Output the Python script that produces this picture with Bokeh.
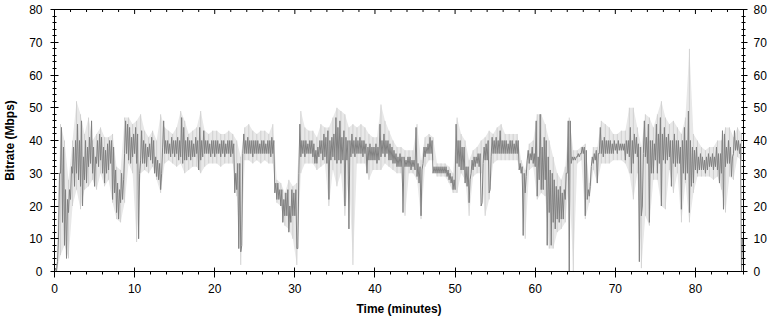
import math
from bokeh.plotting import figure
from bokeh.models import Range1d, LinearAxis, SingleIntervalTicker
from bokeh.embed import file_html
from bokeh.resources import INLINE

# Average bitrate (dark): per minute, 4 quarter-minute bins, low and high value (Mbps)
dark_hi_rows = [
    [1, 3, 30, 44], [38, 25, 22, 25], [32, 38, 40, 45], [40, 46, 35, 40],
    [38, 41, 46, 38], [35, 40, 42, 41], [38, 37, 39, 40], [40, 38, 31, 27],
    [25, 30, 28, 46], [45, 44, 41, 42], [44, 42, 30, 43], [40, 39, 38, 39],
    [41, 40, 35, 34], [33, 30, 46, 40], [40, 39, 41, 40], [40, 41, 40, 47],
    [44, 40, 41, 40], [40, 39, 41, 40], [44, 40, 43, 40], [40, 39, 40, 40],
    [40, 40, 39, 40], [40, 39, 40, 40], [40, 39, 30, 33], [33, 8, 42, 40],
    [41, 40, 40, 40], [40, 40, 39, 40], [40, 39, 40, 40], [41, 40, 27, 27],
    [25, 25, 22, 24], [25, 20, 25, 24], [25, 7, 45, 40], [40, 40, 39, 40],
    [40, 39, 37, 38], [40, 40, 42, 41], [43, 40, 41, 42], [47, 44, 46, 41],
    [43, 41, 40, 40], [42, 40, 41, 40], [41, 40, 40, 39], [38, 39, 38, 38],
    [39, 38, 45, 40], [42, 40, 40, 39], [38, 37, 36, 35], [36, 35, 35, 34],
    [35, 35, 34, 34], [44, 33, 32, 31], [38, 38, 39, 41], [40, 32, 32, 32],
    [32, 32, 32, 32], [31, 30, 29, 28], [45, 40, 40, 38], [38, 32, 32, 28],
    [34, 35, 35, 36], [36, 21, 38, 39], [40, 25, 41, 40], [41, 40, 43, 40],
    [40, 40, 39, 40], [40, 39, 40, 40], [33, 32, 30, 29], [37, 36, 38, 36],
    [46, 35, 48, 38], [41, 40, 35, 31], [30, 28, 26, 25], [26, 24, 25, 30],
    [46, 46, 35, 35], [35, 36, 36, 38], [38, 37, 25, 26], [35, 36, 37, 36],
    [44, 40, 41, 40], [40, 40, 39, 40], [39, 40, 39, 39], [39, 40, 40, 44],
    [40, 42, 41, 39], [38, 20, 46, 41], [45, 40, 40, 39], [45, 42, 47, 42],
    [44, 41, 42, 40], [40, 42, 40, 40], [38, 40, 44, 40], [49, 40, 38, 37],
    [38, 35, 36, 35], [34, 35, 36, 35], [36, 35, 38, 36], [36, 43, 42, 38],
    [40, 38, 35, 43], [40, 40, 39, 10],
]
dark_lo_rows = [
    [0, 0, 10, 30], [15, 8, 4, 18], [22, 30, 26, 30], [28, 26, 20, 28],
    [27, 32, 33, 30], [26, 33, 32, 34], [30, 27, 30, 31], [33, 22, 24, 18],
    [16, 21, 22, 36], [36, 34, 33, 35], [36, 33, 10, 34], [33, 33, 32, 35],
    [34, 33, 30, 29], [28, 25, 38, 36], [36, 36, 35, 36], [35, 36, 34, 35],
    [33, 34, 34, 35], [34, 35, 35, 36], [31, 34, 35, 36], [36, 36, 35, 36],
    [35, 36, 36, 35], [36, 35, 36, 36], [35, 36, 24, 25], [7, 6, 36, 36],
    [36, 36, 36, 35], [36, 36, 36, 36], [36, 36, 36, 36], [35, 36, 24, 22],
    [22, 20, 15, 17], [17, 12, 15, 17], [17, 7, 30, 35], [36, 35, 36, 36],
    [36, 35, 33, 33], [35, 36, 34, 35], [33, 22, 34, 35], [34, 33, 34, 33],
    [34, 20, 34, 13], [35, 36, 35, 36], [36, 36, 35, 36], [30, 34, 34, 34],
    [34, 33, 34, 35], [36, 35, 36, 34], [34, 33, 33, 32], [32, 32, 18, 32],
    [32, 32, 31, 32], [31, 29, 27, 17], [33, 35, 36, 36], [36, 30, 30, 30],
    [30, 30, 30, 30], [29, 28, 27, 25], [25, 33, 32, 31], [31, 27, 26, 21],
    [30, 31, 32, 33], [32, 20, 33, 34], [34, 24, 35, 36], [36, 36, 36, 36],
    [36, 36, 36, 36], [36, 36, 36, 36], [31, 30, 11, 24], [34, 33, 34, 33],
    [32, 23, 28, 25], [25, 28, 8, 18], [8, 15, 13, 16], [15, 16, 16, 22],
    [30, 0, 33, 34], [34, 35, 35, 36], [36, 17, 22, 23], [32, 33, 34, 27],
    [36, 36, 35, 36], [36, 36, 36, 36], [37, 36, 37, 37], [37, 34, 36, 35],
    [30, 33, 36, 35], [3, 17, 36, 35], [33, 15, 30, 30], [34, 30, 33, 20],
    [34, 33, 34, 35], [26, 33, 32, 33], [33, 19, 30, 28], [30, 18, 26, 27],
    [31, 30, 31, 31], [31, 30, 31, 32], [32, 31, 32, 31], [27, 30, 19, 32],
    [33, 33, 29, 36], [37, 37, 36, 0],
]

# Peak bitrate (light): per minute, 2 half-minute bins, high and low value (Mbps)
light_hi_rows = [
    [2, 45], [40, 28], [40, 52], [48, 42], [47, 40], [42, 44], [41, 41], [42, 32],
    [31, 47], [47, 45], [46, 48], [43, 41], [43, 40], [48, 44], [43, 42], [44, 49],
    [46, 42], [43, 44], [49, 43], [42, 43], [43, 42], [42, 43], [42, 40], [35, 44],
    [45, 43], [42, 43], [43, 42], [45, 28], [27, 24], [28, 26], [27, 49], [44, 43],
    [43, 41], [45, 44], [44, 47], [50, 49], [48, 44], [45, 44], [45, 44], [42, 41],
    [41, 51], [46, 43], [40, 38], [38, 37], [37, 37], [45, 34], [41, 42], [41, 33],
    [33, 33], [32, 30], [47, 42], [40, 34], [37, 38], [40, 41], [43, 42], [44, 45],
    [42, 42], [42, 42], [34, 31], [39, 40], [48, 48], [45, 40], [35, 30], [28, 32],
    [47, 37], [37, 38], [39, 27], [38, 38], [46, 45], [44, 42], [42, 43], [43, 50],
    [50, 44], [38, 48], [47, 44], [48, 52], [47, 45], [46, 44], [42, 47], [68, 42],
    [40, 38], [37, 38], [38, 40], [40, 44], [44, 41], [44, 42],
]
light_lo_rows = [
    [0, 5], [8, 4], [20, 25], [19, 25], [26, 28], [25, 30], [26, 28], [21, 16],
    [15, 21], [33, 30], [9, 30], [31, 30], [32, 28], [24, 33], [34, 33], [32, 33],
    [30, 31], [32, 32], [30, 32], [33, 33], [33, 32], [33, 33], [33, 23], [2, 34],
    [34, 33], [34, 33], [34, 33], [33, 21], [20, 14], [13, 10], [2, 30], [33, 33],
    [33, 31], [32, 33], [20, 31], [26, 30], [17, 30], [2, 33], [33, 33], [28, 31],
    [31, 31], [33, 32], [31, 30], [30, 17], [30, 30], [28, 16], [32, 34], [34, 29],
    [29, 29], [27, 24], [24, 30], [28, 17], [29, 30], [30, 17], [22, 33], [34, 34],
    [34, 34], [34, 34], [30, 10], [31, 32], [22, 24], [23, 7], [7, 12], [13, 15],
    [28, 0], [33, 34], [16, 21], [31, 27], [33, 33], [33, 34], [34, 34], [33, 30],
    [22, 30], [1, 17], [14, 28], [28, 20], [19, 31], [24, 30], [15, 27], [15, 24],
    [29, 29], [29, 29], [28, 29], [25, 18], [29, 28], [35, 34],
]

x_ticks_major = list(range(0, 81, 10))
x_ticks_minor = [v for v in range(0, 87, 2) if v % 10]

# dark: zig-zag line, low then high within each quarter-minute bin
dark_t, dark_y = [], []
for m, (his, los) in enumerate(zip(dark_hi_rows, dark_lo_rows)):
    for k in range(4):
        dark_t += [m + k * 0.25, m + k * 0.25 + 0.125]
        dark_y += [los[k], his[k]]

# light: low..high of each half-minute bin
light_t, light_lo, light_hi = [], [], []
for m, (his, los) in enumerate(zip(light_hi_rows, light_lo_rows)):
    for k in range(2):
        light_t.append(m + k * 0.5 + 0.25)
        light_lo.append(los[k])
        light_hi.append(his[k])

FONT = "Liberation Sans"

p = figure(width=774, height=321, output_backend="svg", toolbar_location=None,
           x_range=Range1d(0, 86), y_range=Range1d(0, 80),
           min_border_left=53, min_border_right=31, min_border_top=9, min_border_bottom=50)
p.background_fill_color = "white"
p.border_fill_color = "white"
p.outline_line_color = "black"
p.xgrid.visible = False
p.ygrid.visible = False

p.varea(x=light_t, y1=light_lo, y2=light_hi, fill_color="#e8e8e8")
p.segment(x0=light_t, y0=light_lo, x1=light_t, y1=light_hi, line_color="#d0d0d0", line_width=1)
p.line(dark_t, dark_y, color="#808080", line_width=1)

# top-edge ticks (inside the frame)
p.scatter(x=x_ticks_major, y=[80] * len(x_ticks_major), marker="dash", angle=math.pi / 2,
          size=9, line_color="black", line_width=1)
p.scatter(x=x_ticks_minor, y=[80] * len(x_ticks_minor), marker="dash", angle=math.pi / 2,
          size=5, line_color="black", line_width=1)


def style(ax, tin, tout, mtin, mtout):
    ax.axis_line_color = "black"
    ax.major_tick_line_color = "black"
    ax.minor_tick_line_color = "black"
    ax.major_tick_in = tin
    ax.major_tick_out = tout
    ax.minor_tick_in = mtin
    ax.minor_tick_out = mtout
    ax.major_label_text_font = FONT
    ax.major_label_text_color = "black"
    ax.major_label_text_font_size = "12px"
    ax.axis_label_text_font = FONT
    ax.axis_label_text_font_style = "bold"
    ax.axis_label_text_font_size = "12px"
    ax.axis_label_text_color = "black"


p.xaxis.ticker = SingleIntervalTicker(interval=10, num_minor_ticks=5)
p.yaxis.ticker = SingleIntervalTicker(interval=10, num_minor_ticks=5)
p.xaxis.axis_label = "Time (minutes)"
p.yaxis.axis_label = "Bitrate (Mbps)"
style(p.xaxis[0], 4, 6, 0, 3)
style(p.yaxis[0], 4, 4, 2, 2)
p.xaxis.major_label_standoff = 6
p.xaxis.axis_label_standoff = 6
p.yaxis.major_label_standoff = 8
p.yaxis.axis_label_standoff = 9

ry = LinearAxis(ticker=SingleIntervalTicker(interval=10, num_minor_ticks=5))
style(ry, 2, 4, 2, 2)
ry.major_label_standoff = 6
p.add_layout(ry, "right")

open("out.html", "w").write(file_html(p, INLINE))
